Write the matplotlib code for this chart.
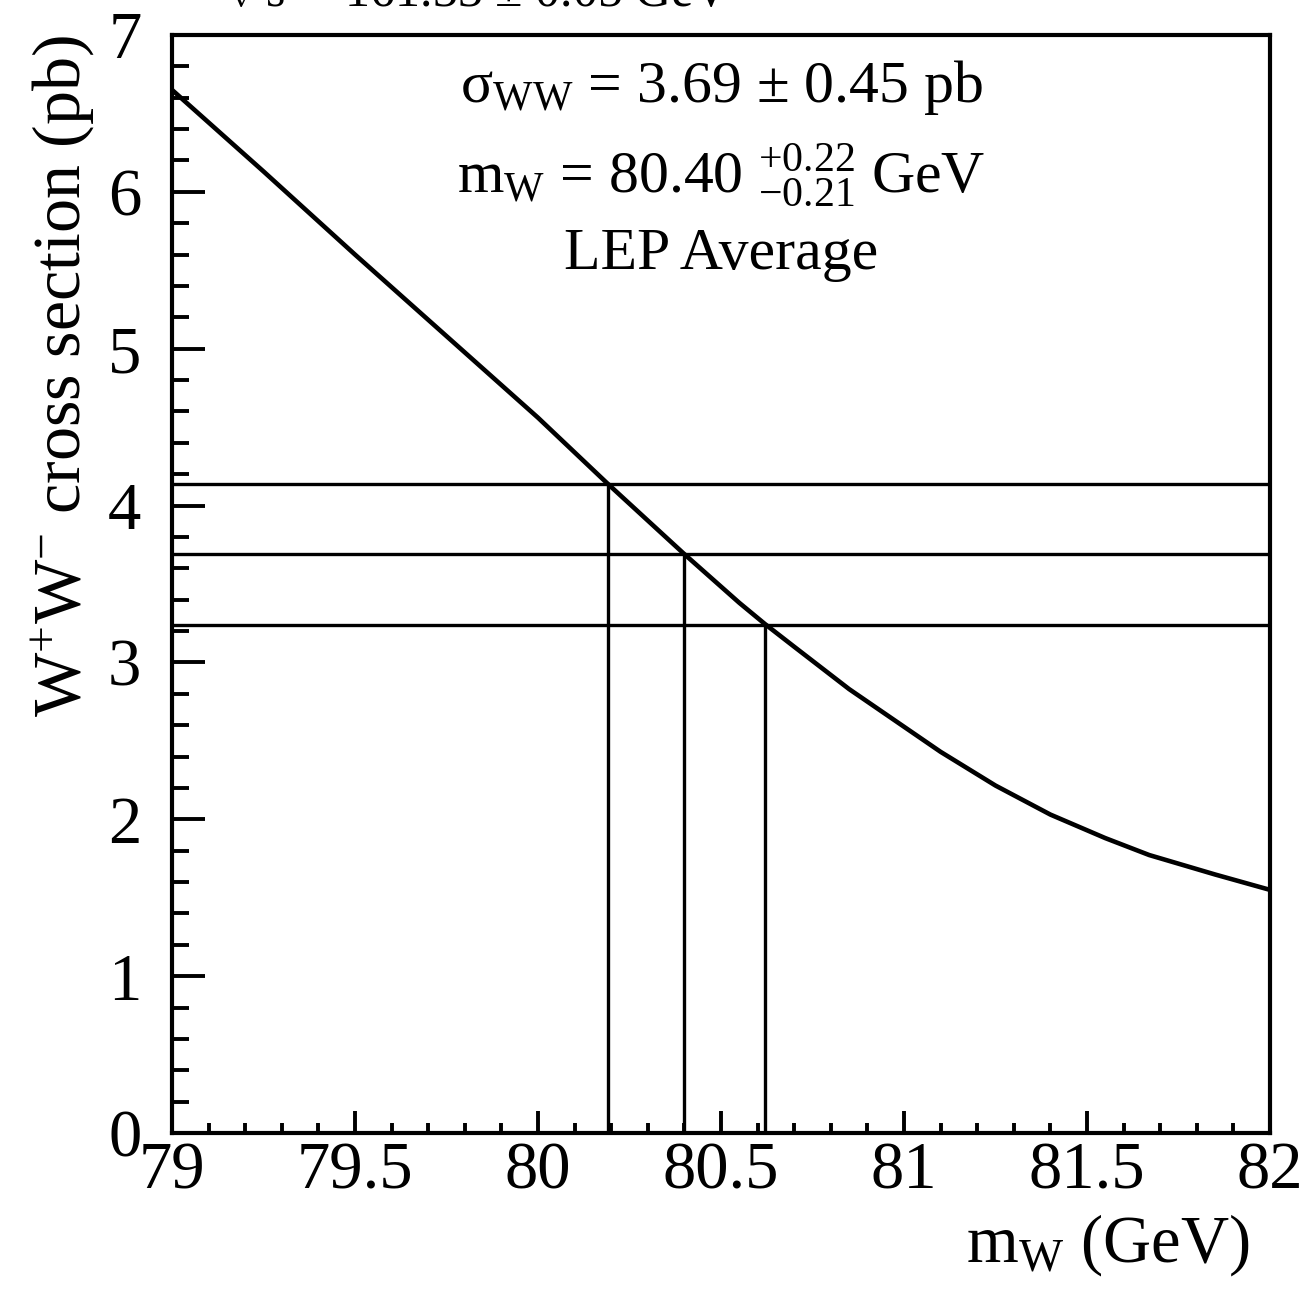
import matplotlib
matplotlib.use("Agg")
import matplotlib.pyplot as plt
from matplotlib.ticker import MultipleLocator

plt.rcParams['font.family'] = ['Liberation Serif', 'DejaVu Serif']
plt.rcParams['mathtext.fontset'] = 'custom'
plt.rcParams['mathtext.rm'] = 'Liberation Serif'
plt.rcParams['mathtext.it'] = 'Liberation Serif:italic'
plt.rcParams['mathtext.bf'] = 'Liberation Serif:bold'

# curve: WW cross section vs W mass
mw = [79.0, 79.25, 79.5, 79.75, 80.0, 80.19, 80.40, 80.55, 80.62,
      80.70, 80.85, 81.0, 81.1, 81.25, 81.4, 81.55, 81.67, 81.85, 82.0]
sigma = [6.65, 6.13, 5.60, 5.08, 4.56, 4.14, 3.69, 3.38, 3.245,
         3.10, 2.83, 2.59, 2.43, 2.215, 2.03, 1.88, 1.772, 1.648, 1.55]

# measured cross section (upper, central, lower) and resulting mass
sigma_levels = [4.14, 3.69, 3.24]
mw_levels = [80.19, 80.40, 80.62]

xticks = [79, 79.5, 80, 80.5, 81, 81.5, 82]
xticklabels = ['79', '79.5', '80', '80.5', '81', '81.5', '82']
yticks = [0, 1, 2, 3, 4, 5, 6, 7]

fig = plt.figure(figsize=(13.14, 12.90), dpi=100)
ax = fig.add_axes([0.1309, 0.1217, 0.8356, 0.8512])

ax.plot(mw, sigma, color='black', lw=3.3, solid_joinstyle='round')
for s in sigma_levels:
    ax.axhline(s, color='black', lw=2.4)
for m, s in zip(mw_levels, sigma_levels):
    ax.plot([m, m], [0, s], color='black', lw=2.4)

ax.set_xlim(79, 82)
ax.set_ylim(0, 7)
ax.set_xticks(xticks)
ax.set_xticklabels(xticklabels)
ax.set_yticks(yticks)
ax.xaxis.set_minor_locator(MultipleLocator(0.1))
ax.yaxis.set_minor_locator(MultipleLocator(0.2))

for sp in ax.spines.values():
    sp.set_linewidth(3.0)

ax.tick_params(axis='x', which='major', direction='in', length=16, width=2.8,
               labelsize=48, pad=6, top=False)
ax.tick_params(axis='x', which='minor', direction='in', length=7.5, width=2.8, top=False)
ax.tick_params(axis='y', which='major', direction='in', length=24, width=2.8,
               labelsize=48, pad=22, right=False)
ax.tick_params(axis='y', which='minor', direction='in', length=12, width=2.8, right=False)

ax.set_xlabel(r'm$_{\rm W}$ (GeV)', fontsize=48, ha='right')
ax.xaxis.set_label_coords(0.982, -0.117, transform=ax.transAxes)
ax.xaxis.label.set_va('baseline')
ax.set_ylabel(r'W$^{+}$W$^{-}$ cross section (pb)', fontsize=49, loc='top', labelpad=8)

ax.text(0.50, 0.952, r'σ$_{\rm WW}$ = 3.69 $\pm$ 0.45 pb', transform=ax.transAxes,
        ha='center', va='center', fontsize=43)
ax.text(0.50, 0.872, r'm$_{\rm W}$ = 80.40 $^{+0.22}_{-0.21}$ GeV', transform=ax.transAxes,
        ha='center', va='center', fontsize=43)
ax.text(0.50, 0.800, 'LEP Average', transform=ax.transAxes,
        ha='center', va='center', fontsize=43)

fig.text(225 / 1314, 1 - 6 / 1290, r'$\sqrt{\rm s}$ = 161.33 $\pm$ 0.05 GeV',
         ha='left', va='baseline', fontsize=36)

fig.savefig('out.png', dpi=100)
